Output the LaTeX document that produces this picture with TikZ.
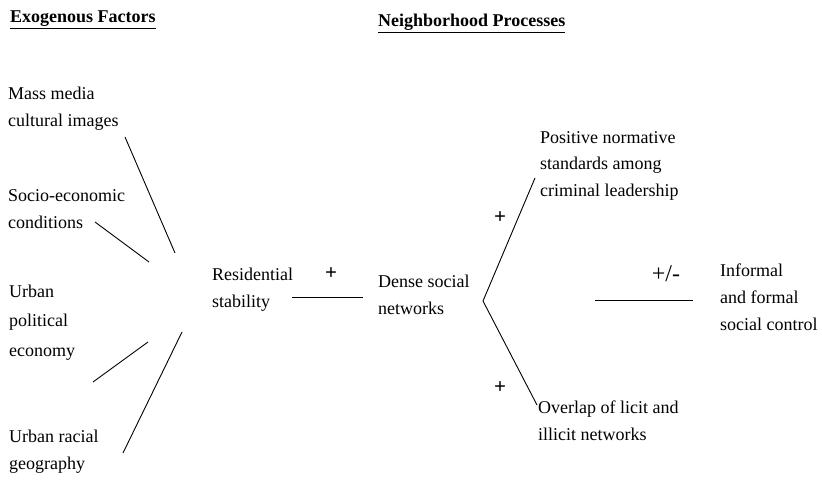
\documentclass[tikz,border=0pt]{standalone}
\usepackage{fontspec}
\setmainfont{Liberation Serif}
\begin{document}
\begin{tikzpicture}[x=1pt,y=-1pt,
  txt/.style={anchor=base west,align=left,inner sep=0pt,font=\fontsize{18}{27}\selectfont},
  hdr/.style={anchor=base west,inner sep=0pt,font=\fontsize{18}{22}\selectfont\bfseries},
  sgn/.style={inner sep=0pt,font=\fontsize{21}{24}\selectfont\bfseries},
  link/.style={line width=0.9pt}]
\useasboundingbox (0,0) rectangle (822,481);

% headings
\node[hdr] (exo) at (10,23) {\underline{Exogenous Factors}};
\node[hdr] (nbh) at (378,27) {\underline{Neighborhood Processes}};

% exogenous factors (anchored at last line)
\node[txt] (media) at (8,127) {Mass media\\cultural images};
\node[txt] (socio) at (8,229) {Socio-economic\\conditions};
\node[txt,font=\fontsize{18}{29.5}\selectfont] (polit) at (9,356) {Urban\\political\\economy};
\node[txt] (racial) at (9,469) {Urban racial\\geography};

% neighborhood processes
\node[txt] (resid) at (212,307) {Residential\\stability};
\node[txt] (dense) at (378,314) {Dense social\\networks};
\node[txt] (norm) at (540,197) {Positive normative\\standards among\\criminal leadership};
\node[txt] (licit) at (538,440) {Overlap of licit and\\illicit networks};
\node[txt] (ctrl) at (720,330) {Informal\\and formal\\social control};

% line ends
\coordinate (m1) at (125,137); \coordinate (m2) at (175,253);
\coordinate (s1) at (95,222);  \coordinate (s2) at (149,262);
\coordinate (u1) at (93,382);  \coordinate (u2) at (148,342);
\coordinate (r1) at (123,453); \coordinate (r2) at (182,332);
\coordinate (a1) at (292,297); \coordinate (a2) at (363,297);
\coordinate (b1) at (535,178); \coordinate (b0) at (483,301); \coordinate (b2) at (537,405);
\coordinate (c1) at (595,300); \coordinate (c2) at (693,300);

\draw[link] (m1) -- (m2);
\draw[link] (s1) -- (s2);
\draw[link] (u1) -- (u2);
\draw[link] (r1) -- (r2);
\draw[link,line width=0.6pt] (a1) -- (a2);
\draw[link] (b1) -- (b0) -- (b2);
\draw[link,line width=0.6pt] (c1) -- (c2);

% signs
\node[sgn] (p1) at (331,274) {+};
\node[sgn] (p2) at (500,218) {+};
\node[sgn] (p3) at (500,388) {+};
\node[sgn,font=\fontsize{24}{28}\selectfont] (pm) at (666,274) {+/-};
\end{tikzpicture}
\end{document}
